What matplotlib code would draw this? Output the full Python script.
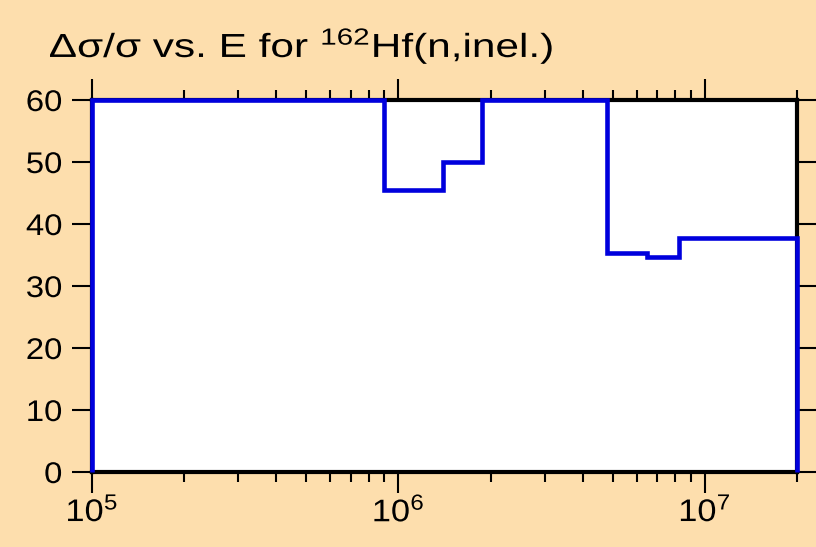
import matplotlib
matplotlib.use("Agg")
import matplotlib.pyplot as plt
from matplotlib.ticker import LogLocator, FixedLocator, NullFormatter
from matplotlib.patheffects import AbstractPathEffect
from matplotlib.transforms import Affine2D

plt.rcParams['font.family'] = ['Liberation Sans', 'DejaVu Sans']
plt.rcParams['mathtext.fontset'] = 'custom'
plt.rcParams['mathtext.rm'] = 'Liberation Sans'
plt.rcParams['mathtext.it'] = 'Liberation Sans'
plt.rcParams['mathtext.bf'] = 'Liberation Sans'

# Data
energy_edges = [1e5, 9e5, 1.4e6, 1.87e6, 4.8e6, 6.5e6, 8.25e6, 2e7]
rel_unc = [60, 45.5, 50, 60, 35.3, 34.7, 37.7]
y_ticks = [0, 10, 20, 30, 40, 50, 60]
title = 'Δσ/σ vs. E for $^{162}$Hf(n,inel.)'


class HStretch(AbstractPathEffect):
    """Stretch glyph outlines horizontally about an anchor (text stays text)."""
    def __init__(self, sx, anchor='left'):
        super().__init__()
        self.sx = sx
        self.anchor = anchor

    def draw_path(self, renderer, gc, tpath, affine, rgbFace=None):
        ext = tpath.get_extents(affine)
        if self.anchor == 'left':
            x0 = ext.x0
        elif self.anchor == 'right':
            x0 = ext.x1
        else:
            x0 = 0.5 * (ext.x0 + ext.x1)
        tr = affine + Affine2D().translate(-x0, 0).scale(self.sx, 1).translate(x0, 0)
        renderer.draw_path(gc, tpath, tr, rgbFace)


bg = '#FDDEAD'
fig = plt.figure(figsize=(8.16, 5.47), dpi=100, facecolor=bg)
ax = fig.add_axes([92/816, 1-472/547, (797-92)/816, (472-100)/547])
ax.set_facecolor('white')

ax.stairs(rel_unc, energy_edges, baseline=0, color='#0000dd', linewidth=3.3,
          zorder=3, clip_on=False)

ax.set_xscale('log')
ax.set_xlim(1e5, 2e7)
ax.set_ylim(0, 60)
ax.yaxis.set_major_locator(FixedLocator(y_ticks))
ax.xaxis.set_major_locator(LogLocator(base=10, numticks=10))
ax.xaxis.set_minor_locator(LogLocator(base=10, subs=range(2, 10), numticks=20))
ax.xaxis.set_minor_formatter(NullFormatter())

for s in ax.spines.values():
    s.set_linewidth(3)
    s.set_color('black')

ax.tick_params(axis='x', which='major', direction='out', length=15, width=1.5,
               top=True, bottom=True, labelsize=22.5, pad=3)
ax.tick_params(axis='x', which='minor', direction='out', length=7.5, width=1.5,
               top=True, bottom=True)
ax.tick_params(axis='y', which='major', direction='out', length=14.5, width=1.5,
               left=True, right=True, labelsize=21.5, pad=7)

for lbl in ax.get_yticklabels():
    lbl.set_path_effects([HStretch(1.1, 'right')])
for lbl in ax.get_xticklabels():
    lbl.set_path_effects([HStretch(1.1, 'center')])

fig.text(49/816, 1-57/547, title, fontsize=24, va='baseline', ha='left',
         path_effects=[HStretch(1.27, 'left')])

fig.savefig('out.png', dpi=100, facecolor=bg)
